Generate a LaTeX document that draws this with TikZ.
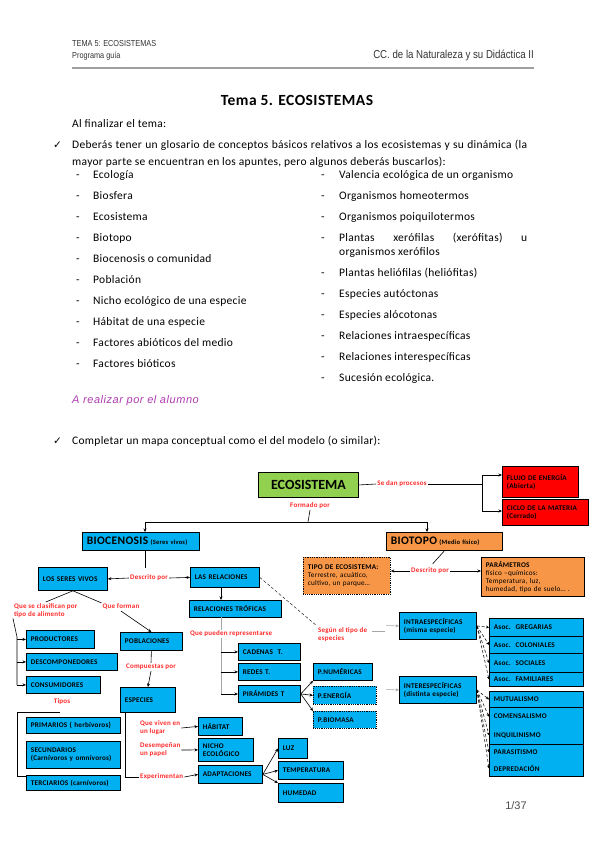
\documentclass[tikz,border=0pt]{standalone}
\usepackage{fontspec}
\setmainfont{Carlito}
\newfontfamily\bodyf[LetterSpace=2.5]{Carlito}
\newfontfamily\mapf[LetterSpace=3]{Carlito}
\newfontfamily\narrowf[FakeStretch=0.84]{Liberation Sans}
\newfontfamily\arialf{Liberation Sans}
\newfontfamily\arialsp[LetterSpace=5]{Liberation Sans}
\newfontfamily\symf{DejaVu Sans}
\usetikzlibrary{arrows.meta}
\definecolor{cblue}{RGB}{0,176,240}
\definecolor{corange}{RGB}{247,150,70}
\definecolor{cgreen}{RGB}{146,208,80}
\definecolor{cred}{RGB}{255,0,0}
\definecolor{clab}{RGB}{255,40,40}
\definecolor{cpurple}{RGB}{175,60,175}
\tikzset{
  mbox/.style={draw=black, line width=0.8pt, anchor=north west, inner xsep=4.5pt, inner ysep=0pt,
    align=left, font=\mapf\fontsize{7.2}{8.2}\selectfont\bfseries},
  bl/.style={fill=cblue},
  orb/.style={fill=corange},
  rdb/.style={fill=cred},
  lab/.style={text=clab, font=\mapf\fontsize{7}{8}\selectfont\bfseries, inner sep=1pt, align=left},
  arr/.style={-{Stealth[length=3.5pt,width=3pt]}, line width=0.6pt},
  garr/.style={-{Stealth[length=3.5pt,width=3pt]}, line width=0.5pt, draw=gray!70},
  gline/.style={line width=0.6pt, draw=gray!70},
  darr/.style={-{Stealth[length=3pt,width=3pt]}, line width=0.5pt, densely dashed},
  body/.style={anchor=base west, inner sep=0pt, font=\bodyf\fontsize{11.5}{13}\selectfont},
  hdr/.style={anchor=base west, inner sep=0pt, font=\narrowf\fontsize{8.7}{10}\selectfont, text=black!80},
}
\newcommand\mapnode[7]{\pgfmathsetmacro\mapw{#4-9}%
  \node[mbox,#6,minimum width=#4pt,minimum height=#5pt,text width=\mapw pt] (#1) at (#2,#3) {#7};}
\begin{document}
\begin{tikzpicture}[x=1pt,y=-1pt]
\useasboundingbox (0,0) rectangle (599,848);
% header
\node[hdr] (h1) at (72,47) {TEMA 5: ECOSISTEMAS};
\node[hdr] (h2) at (72,59) {Programa guía};
\node[hdr, anchor=base east, font=\narrowf\fontsize{11.5}{12}\selectfont] (h3) at (534,59) {CC. de la Naturaleza y su Didáctica II};
\draw[line width=1.4pt, draw=gray!75] (72,68) -- (534,68);
\node[anchor=base, inner sep=0pt, font=\mapf\fontsize{15.5}{17}\selectfont\bfseries] (title) at (297,106) {Tema 5. ECOSISTEMAS};
% intro
\node[body] (t1) at (72,128) {Al finalizar el tema:};
\node[body, font=\symf\fontsize{10.5}{11}\selectfont] (chk1) at (53,149) {✓};
\node[body] (p1) at (72,149) {\makebox[455pt][s]{Deberás tener un glosario de conceptos básicos relativos a los ecosistemas y su dinámica (la}};
\node[body] (p2) at (72,165) {mayor parte se encuentran en los apuntes, pero algunos deberás buscarlos):};
\foreach \y/\t [count=\i] in {178/Ecología,199/Biosfera,220/Ecosistema,241/Biotopo,262/Biocenosis o comunidad,283/Población,304/Nicho ecológico de una especie,325/Hábitat de una especie,346/Factores abióticos del medio,367/Factores bióticos}{
  \node[body] (ld\i) at (76,\y) {-};
  \node[body] (li\i) at (93,\y) {\t};
}
\foreach \y/\t [count=\i] in {178/Valencia ecológica de un organismo,199/Organismos homeotermos,220/Organismos poiquilotermos,241/{\makebox[188pt][s]{Plantas xerófilas (xerófitas) u}},276/Plantas heliófilas (heliófitas),297/Especies autóctonas,318/Especies alócotonas,339/Relaciones intraespecíficas,360/Relaciones interespecíficas,381/Sucesión ecológica.}{
  \node[body] (rd\i) at (321,\y) {-};
  \node[body] (ri\i) at (339,\y) {\t};
}
\node[body] (ri4b) at (339,255) {organismos xerófilos};
\node[body, text=cpurple, font=\arialsp\itshape\fontsize{11}{12}\selectfont] (alum) at (72,403) {A realizar por el alumno};
\node[body, font=\symf\fontsize{10.5}{11}\selectfont] (chk2) at (53,444) {✓};
\node[body] (p3) at (72,444) {Completar un mapa conceptual como el del modelo (o similar):};

% ===== concept map =====
\node[draw=black, line width=0.9pt, fill=cgreen, anchor=north west, minimum width=100pt, minimum height=25pt, inner sep=0pt, font=\fontsize{14}{16}\selectfont\bfseries] (eco) at (258,472) {ECOSISTEMA};
\mapnode{flujo}{502}{466}{76}{31}{rdb}{FLUJO DE ENERGÍA\\(Abierta)}
\mapnode{ciclo}{502}{499}{86}{26}{rdb}{CICLO DE LA MATERIA\\(Cerrado)}
\mapnode{bioc}{82}{532}{117}{18}{bl}{{\fontsize{11.5}{12}\selectfont BIOCENOSIS} {\fontsize{6.5}{7}\selectfont(Seres vivos)}}
\mapnode{biot}{386}{532}{116}{18}{orb}{{\fontsize{11.5}{12}\selectfont BIOTOPO} {\fontsize{6.5}{7}\selectfont(Medio físico)}}
\mapnode{tipo}{303}{557}{87}{37}{orb,densely dotted}{TIPO DE ECOSISTEMA:\\\mdseries Terrestre, acuático,\\\mdseries cultivo, un parque…}
\mapnode{param}{481}{557}{103}{39}{orb}{PARÁMETROS\\\mdseries físico –químicos:\\\mdseries Temperatura, luz,\\\mdseries humedad, tipo de suelo… .}
\mapnode{seres}{38}{567}{69}{23}{bl}{LOS SERES VIVOS}
\mapnode{relac}{190}{567}{69}{20}{bl}{LAS RELACIONES}
\mapnode{trof}{189}{600}{92}{17}{bl}{RELACIONES TRÓFICAS}
\mapnode{prod}{26}{630}{68}{18}{bl}{PRODUCTORES}
\mapnode{desc}{26}{653}{91}{17}{bl}{DESCOMPONEDORES}
\mapnode{cons}{26}{676}{74}{17}{bl}{CONSUMIDORES}
\mapnode{pobl}{120}{632}{62}{18}{bl}{POBLACIONES}
\mapnode{espe}{120}{687}{55}{25}{bl}{ESPECIES\\[5pt]}
\mapnode{prim}{26}{717}{94}{16}{bl}{PRIMARIOS ( herbívoros)}
\mapnode{secu}{26}{741}{94}{27}{bl}{SECUNDARIOS\\(Carnívoros y omnívoros)}
\mapnode{terc}{26}{775}{94}{15}{bl}{TERCIARIOS (carnívoros)}
\mapnode{habi}{198}{717}{44}{18}{bl}{HÁBITAT}
\mapnode{nich}{198}{738}{55}{23}{bl}{NICHO\\ECOLÓGICO}
\mapnode{adap}{198}{765}{64}{18}{bl}{ADAPTACIONES}
\mapnode{luz}{278}{738}{29}{20}{bl}{LUZ}
\mapnode{temp}{278}{761}{65}{18}{bl}{TEMPERATURA}
\mapnode{hume}{278}{783}{65}{19}{bl}{HUMEDAD}
\mapnode{cade}{238}{643}{62}{17}{bl}{CADENAS\ \ T.}
\mapnode{rede}{238}{663}{62}{17}{bl}{REDES T.}
\mapnode{pira}{238}{685}{62}{17}{bl}{PIRÁMIDES T}
\mapnode{pnum}{313}{663}{59}{17}{bl}{P.NUMÉRICAS}
\mapnode{pene}{313}{686}{63}{18}{bl,densely dotted}{P.ENERGÍA}
\mapnode{pbio}{313}{711}{63}{17}{bl,densely dotted}{P.BIOMASA}
\mapnode{intra}{399}{612}{77}{27}{bl}{INTRAESPECÍFICAS\\(misma especie)}
\mapnode{inter}{399}{676}{77}{27}{bl}{INTERESPECÍFICAS\\(distinta especie)}
\mapnode{greg}{489}{618}{94}{18}{bl}{Asoc.\ \ GREGARIAS}
\mapnode{colo}{489}{636}{94}{17}{bl}{Asoc.\ \ COLONIALES}
\mapnode{soci}{489}{653}{94}{19}{bl}{Asoc.\ \ SOCIALES}
\mapnode{fami}{489}{672}{94}{14}{bl}{Asoc.\ \ FAMILIARES}
\mapnode{mutu}{489}{691}{94}{16}{bl}{MUTUALISMO}
\mapnode{come}{489}{707}{94}{18.5}{bl,draw=none}{COMENSALISMO}
\mapnode{inqu}{489}{725.5}{94}{18.5}{bl,draw=none}{INQUILINISMO}
\mapnode{para}{489}{744}{94}{16}{bl,draw=none}{PARASITISMO}
\mapnode{depr}{489}{760}{94}{16}{bl,draw=none}{DEPREDACIÓN}
\draw[line width=0.8pt] (come.north west) rectangle (inqu.south east);
\draw[line width=0.8pt] (para.north west) rectangle (depr.south east);

% gray trunk under the trophic label
\coordinate (tr1) at (221,617);
\coordinate (tr2) at (221,694);
\draw[gline] (tr1) -- (tr2);

% labels
\node[lab] (sedan) at (402,484) {Se dan procesos};
\node[lab] (formado) at (310,506) {Formado por};
\node[lab] (descA) at (149,578) {Descrito por};
\node[lab] (descB) at (430,571) {Descrito por};
\node[lab, anchor=north west] (clas) at (13,602) {Que se clasifican por\\tipo de alimento};
\node[lab] (forman) at (121,607) {Que forman};
\node[lab] (comp) at (151,667) {Compuestas por};
\node[lab] (tipos) at (62,702) {Tipos};
\node[lab, anchor=west] (viven) at (139,728) {Que viven en\\un lugar};
\node[lab, anchor=west] (desem) at (139,750) {Desempeñan\\un papel};
\node[lab, anchor=west] (expe) at (139,777) {Experimentan};
\node[lab, anchor=west, fill=white] (repr) at (189,634) {Que pueden representarse};
\node[lab, anchor=north west] (segun) at (317,626) {Según el tipo de\\especies};

% connectors
\draw[line width=0.6pt] (eco.east) -- (sedan.west);
\coordinate (fork) at (482,484);
\coordinate (forkA) at (482,475);
\coordinate (forkB) at (482,511);
\draw[line width=0.6pt] (sedan.east) -- (fork);
\draw[line width=0.6pt] (forkA) -- (forkB);
\draw[arr] (forkA) -- (flujo.west |- forkA);
\draw[arr] (forkB) -- (ciclo.west |- forkB);
\coordinate (j1) at (308,522);
\coordinate (jl) at (145,522);
\coordinate (jr) at (427,522);
\draw[line width=0.6pt] (formado.south) -- (j1);
\draw[line width=0.6pt] (jl) -- (jr);
\draw[arr] (jl) -- (jl |- bioc.north);
\draw[arr] (jr) -- (jr |- biot.north);
\draw[line width=0.6pt, shorten >=6pt] (bioc.south -| jl) -- (descA.north -| jl);
\draw[arr] (descA.west) -- (seres.east);
\draw[arr] (descA.east) -- (relac.west);
\draw[line width=0.6pt, shorten >=4pt] (biot.south) -- (descB.north);
\draw[arr] (descB.west) -- (tipo.east |- descB.west);
\draw[arr] (descB.east) -- (param.west |- descB.east);
\draw[line width=0.6pt] (seres.south) -- (clas.north);
\draw[line width=0.6pt] (seres.south) -- (forman.north west);
\draw[arr] (forman.south) -- (pobl.north);
\draw[line width=0.6pt] (pobl.south) -- (comp.north);
\draw[arr] (comp.south) -- (espe.north);
\coordinate (tA) at (17,637);
\coordinate (tB) at (17,685);
\draw[line width=0.6pt] (clas.south west) -- (tA) -- (tB);
\draw[arr] (tA |- prod.west) -- (prod.west);
\draw[arr] (tA |- desc.west) -- (desc.west);
\draw[arr] (tB |- cons.west) -- (cons.west);
\coordinate (tc) at (60,712);
\coordinate (td) at (17,712);
\coordinate (te) at (17,776);
\draw[line width=0.6pt] (tc) -- (td) -- (te) -- (terc.west |- te);
\coordinate (es1) at (125,712);
\draw[line width=0.6pt] (es1) |- (expe.west);
\draw[arr] (expe.east) -- (adap.west);
\draw[arr] (viven.east) -- (habi.west);
\draw[arr] (desem.east) -- (nich.west);
\draw[arr] (adap.east) -- (luz.west);
\draw[arr] (adap.east) -- (temp.west);
\draw[arr] (adap.east) -- (hume.north west);
\coordinate (r1) at (221,587);
\draw[arr] (r1) -- (r1 |- trof.north);
\draw[arr] (tr1 |- cade.west) -- (cade.west);
\draw[arr] (tr1 |- rede.west) -- (rede.west);
\draw[arr] (tr2) -- (pira.west |- tr2);
\draw[arr] (pira.east) -- (pnum.south west);
\draw[arr] (pira.east) -- (pene.west);
\draw[arr] (pira.east) -- (pbio.north west);
\draw[line width=0.4pt, densely dashed] (relac.east) -- (segun.north west);
\coordinate (sa) at (372,631);
\coordinate (sb) at (385,631);
\draw[gline] (sa) -- (sb);
\coordinate (sc) at (386,625.5);
\coordinate (sd) at (386,689.5);
\draw[garr] (sc) -- (intra.west);
\draw[garr] (sd) -- (inter.west);
\foreach \t in {greg,colo,soci,fami}{\draw[darr] (intra.east) -- (\t.west);}
\foreach \t in {mutu,come,inqu,para,depr}{\draw[darr] (inter.east) -- (\t.west);}
% page number
\node[anchor=base, inner sep=0pt, font=\arialf\fontsize{11}{12}\selectfont, text=black!70] (pg) at (516,809) {1/37};
\end{tikzpicture}
\end{document}
